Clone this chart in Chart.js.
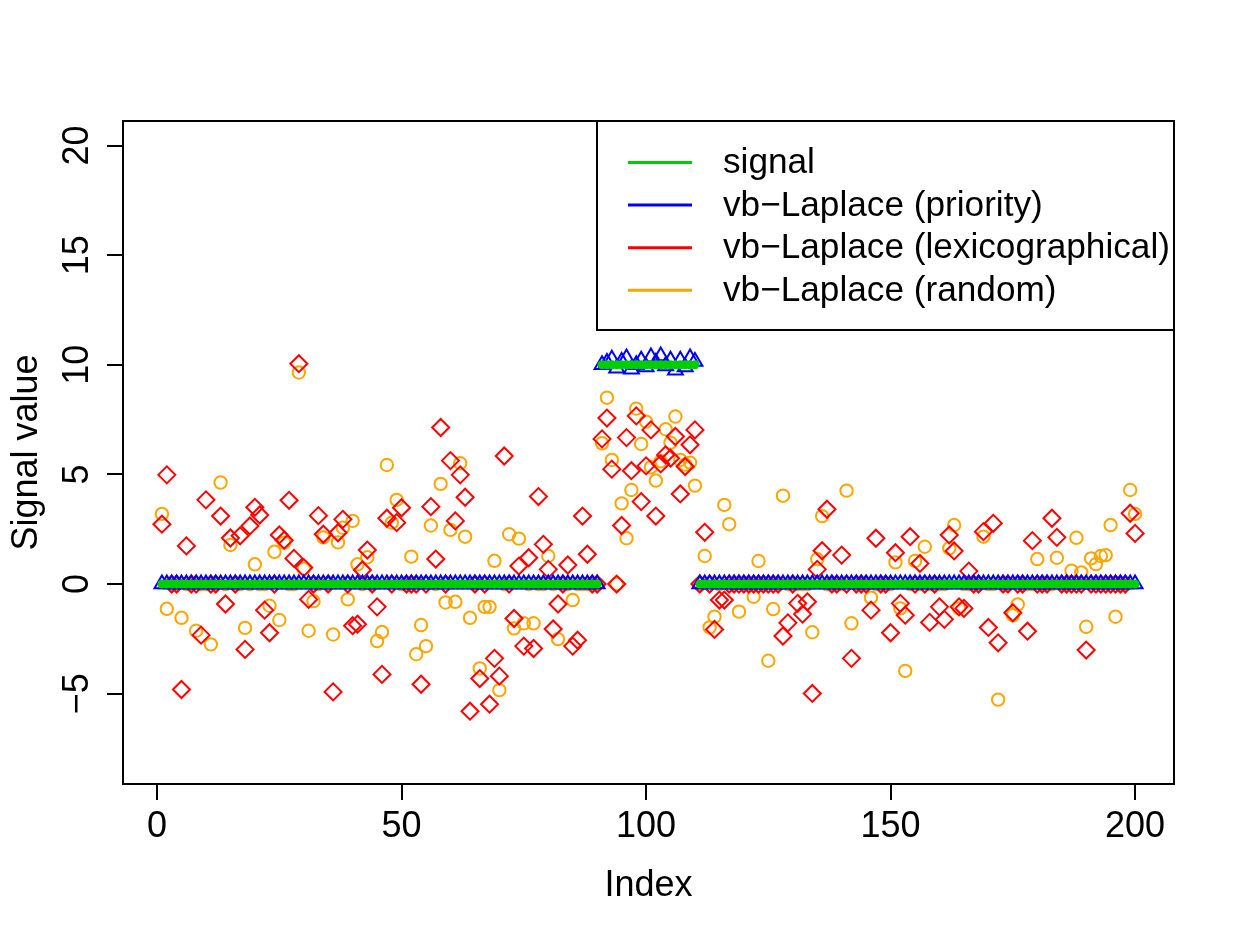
<!DOCTYPE html>
<html>
<head>
<meta charset="utf-8">
<script src="https://cdn.jsdelivr.net/npm/chart.js@4.4.0/dist/chart.umd.min.js"></script>
<style>
  html, body { margin: 0; padding: 0; background: #fff; }
  canvas { display: block; }
</style>
</head>
<body>
<canvas id="chart" width="1238" height="938"></canvas>
<script>
// values, index 1..200
const index = Array.from({length: 200}, (_, i) => i + 1)

const signal = [
  0,0,0,0,0,0,0,0,0,0, 0,0,0,0,0,0,0,0,0,0, 0,0,0,0,0,0,0,0,0,0,
  0,0,0,0,0,0,0,0,0,0, 0,0,0,0,0,0,0,0,0,0, 0,0,0,0,0,0,0,0,0,0,
  0,0,0,0,0,0,0,0,0,0, 0,0,0,0,0,0,0,0,0,0, 0,0,0,0,0,0,0,0,0,0,
  10,10,10,10,10,10,10,10,10,10, 10,10,10,10,10,10,10,10,10,10,
  0,0,0,0,0,0,0,0,0,0, 0,0,0,0,0,0,0,0,0,0, 0,0,0,0,0,0,0,0,0,0,
  0,0,0,0,0,0,0,0,0,0, 0,0,0,0,0,0,0,0,0,0, 0,0,0,0,0,0,0,0,0,0,
  0,0,0,0,0,0,0,0,0,0, 0,0,0,0,0,0,0,0,0,0, 0,0,0,0,0,0,0,0,0,0
]

const priority = [
  0,0,0,0,0,0,0,0,0,0, 0,0,0,0,0,0,0,0,0,0, 0,0,0,0,0,0,0,0,0,0,
  0,0,0,0,0,0,0,0,0,0, 0,0,0,0,0,0,0,0,0,0, 0,0,0,0,0,0,0,0,0,0,
  0,0,0,0,0,0,0,0,0,0, 0,0,0,0,0,0,0,0,0,0, 0,0,0,0,0,0,0,0,0,0,
  10.0,10.1,10.25,9.85,10.15,10.3,9.8,10.0,10.2,9.9,
  10.35,10.1,10.4,9.95,10.2,9.75,10.2,9.9,10.3,10.15,
  0,0,0,0,0,0,0,0,0,0, 0,0,0,0,0,0,0,0,0,0, 0,0,0,0,0,0,0,0,0,0,
  0,0,0,0,0,0,0,0,0,0, 0,0,0,0,0,0,0,0,0,0, 0,0,0,0,0,0,0,0,0,0,
  0,0,0,0,0,0,0,0,0,0, 0,0,0,0,0,0,0,0,0,0, 0,0,0,0,0,0,0,0,0,0
]

const lexico = [
  2.73, 4.98, 0, 0, -4.81, 1.74, 0, 0, -2.33, 3.84,
  0, 0, 3.1, -0.91, 2.1, 0, 2.2, -2.98, 2.65, 3.5,
  3.15, -1.19, -2.22, 0, 2.24, 2.0, 3.82, 1.17, 10.05, 0.75,
  -0.7, 0, 3.12, 2.27, 0, -4.92, 2.34, 2.95, 0, -1.9,
  -1.83, 0.64, 1.55, 0, -1.04, -4.12, 3.0, 0, 2.8, 3.48,
  0, 0, 0, -4.57, 0, 3.53, 1.14, 7.14, 0, 5.63,
  2.88, 4.98, 3.96, -5.8, 0, -4.31, 0, -5.48, -3.39, -4.2,
  5.84, 0, -1.57, 0.82, -2.83, 1.2, -2.94, 3.99, 1.81, 0.67,
  -2.05, -0.91, 0, 0.87, -2.83, -2.56, 3.1, 1.36, 0, 0,
  6.62, 7.57, 5.24, 0, 2.67, 6.68, 5.17, 7.67, 3.76, 5.39,
  7.03, 3.1, 5.48, 5.89, 5.74, 6.73, 4.11, 5.36, 6.35, 7.03,
  0, 2.36, 0, -2.07, -0.73, -0.73, 0, 0, 0, 0,
  0, 0, 0, 0, 0, 0, 0, -2.37, -1.77, 0,
  -0.88, -1.37, -0.81, -4.99, 0.67, 1.52, 3.41, 0, 0, 1.32,
  0, -3.39, 0, 0, 0, -1.19, 2.09, 0, 0, -2.22,
  1.43, -0.88, -1.42, 2.16, 0, 0.94, 0, -1.75, 0, -1.04,
  -1.61, 2.24, 1.51, -1.04, -1.11, 0.59, 0, 0, 2.39, -1.98,
  2.77, -2.68, 0, 0, -1.31, 0, 0, -2.15, 1.98, 0,
  0, 0, 3.0, 2.13, 0, 0, 0, 0, 0, -3.01,
  0, 0, 0, 0, 0, 0, 0, 0, 3.23, 2.31
]

const randomOrder = [
  3.2, -1.13, 0, 0, -1.54, 0, 0, -2.13, 0, 0,
  -2.75, 0, 4.63, 0, 1.78, 0, 0, -2.0, 0, 0.9,
  0, 0, -0.99, 1.47, -1.64, 1.89, 0, 0, 9.65, 0.7,
  -2.13, -0.78, 0, 2.13, 0, -2.3, 1.9, 2.57, -0.7, 2.88,
  0.9, 0, 1.22, 0, -2.6, -2.19, 5.43, 2.8, 3.84, 0,
  0, 1.25, -3.2, -1.87, -2.83, 2.67, 0, 4.57, -0.84, 2.47,
  -0.81, 5.51, 2.16, -1.54, 0, -3.85, -1.04, -1.04, 1.06, -4.84,
  0, 2.27, -2.02, 2.07, -1.79, 0, -1.79, 0, 0, 1.28,
  0, -2.51, 0, 0, -0.73, 0, 0, 0, 0, 0,
  6.42, 8.5, 5.66, 0, 3.68, 2.09, 4.29, 8.0, 6.39, 7.41,
  5.33, 4.72, 5.6, 7.06, 6.45, 7.64, 5.66, 5.45, 5.54, 4.49,
  0, 1.28, -1.98, -1.49, 0, 3.61, 2.73, 0, -1.26, 0,
  0, -0.58, 1.05, 0, -3.5, -1.14, 0, 4.03, 0, 0,
  0, 0, 0, -2.2, 1.14, 3.1, 0, 0, 0, 0,
  4.26, -1.79, 0, 0, 0, -0.62, 0, 0, 0, 0,
  0.99, -1.11, -3.96, 0, 1.05, 0, 1.7, 0, 0, 0,
  0, 1.63, 2.69, -1.11, 0, 0, 0, 0, 2.16, 0,
  0, -5.27, 0, 0, -1.42, -0.93, 0, 0, 0, 1.14,
  0, 0, 0, 1.2, 0, 0, 0.61, 2.11, 0.53, -1.95,
  1.17, 0.91, 1.28, 1.32, 2.69, -1.49, 0, 0, 4.29, 3.2
]

const seriesNames = ['signal', 'vb\u2212Laplace (priority)', 'vb\u2212Laplace (lexicographical)', 'vb\u2212Laplace (random)']
const seriesColors = ['#00cd00', '#0000ff', '#ff0000', '#ffa500']

const xTicks = [0, 50, 100, 150, 200]
const yTicks = [-5, 0, 5, 10, 15, 20]
const xMin = -6.96, xMax = 207.96
const yMin = -9.12, yMax = 21.12

const FONT = '"Liberation Sans", Arial, Helvetica, sans-serif'
const FONT_SIZE = 36
const LEGEND_FONT_SIZE = 35.2
Chart.defaults.font.family = FONT

function fmt(v) {
    return String(v).replace('-', '\u2212')
}

function points(values) {
    return values.map((v, i) => ({x: index[i], y: v}))
}

// box round the plot, rotated y labels and the legend, drawn the way R does them
const framePlugin = {
    id: 'frame',
    afterDatasetsDraw(chart) {
        const {ctx, chartArea: a, scales} = chart
        ctx.save()
        ctx.strokeStyle = '#000'
        ctx.lineWidth = 2
        ctx.strokeRect(a.left, a.top, a.right - a.left, a.bottom - a.top)

        ctx.fillStyle = '#000'
        ctx.font = FONT_SIZE + 'px ' + FONT
        ctx.textAlign = 'center'
        ctx.textBaseline = 'alphabetic'
        scales.y.ticks.forEach(t => {
            const py = scales.y.getPixelForValue(t.value)
            ctx.save()
            ctx.translate(88, py)
            ctx.rotate(-Math.PI / 2)
            ctx.fillText(fmt(t.value), 0, 0)
            ctx.restore()
        })

        // legend
        const lx = 597, ly = a.top, lh = 209
        ctx.fillStyle = '#fff'
        ctx.fillRect(lx, ly, a.right - lx, lh)
        ctx.strokeStyle = '#000'
        ctx.lineWidth = 2
        ctx.strokeRect(lx, ly, a.right - lx, lh)
        ctx.font = LEGEND_FONT_SIZE + 'px ' + FONT
        ctx.textAlign = 'left'
        ctx.textBaseline = 'middle'
        chart.data.datasets.forEach((ds, i) => {
            const y = ly + 41.5 + i * 42.6
            ctx.strokeStyle = ds.legendColor
            ctx.lineWidth = 3
            ctx.beginPath()
            ctx.moveTo(628, y)
            ctx.lineTo(692, y)
            ctx.stroke()
            ctx.fillStyle = '#000'
            ctx.fillText(ds.label, 723, y + 1)
        })
        ctx.restore()
    }
}

const gridOpts = {
    drawOnChartArea: false,
    drawTicks: true,
    tickLength: 16,
    tickWidth: 2,
    tickColor: '#000',
    color: '#000',
    lineWidth: 2
}

new Chart(document.getElementById('chart'), {
    type: 'scatter',
    data: {
        datasets: [
            {
                label: seriesNames[0],
                legendColor: seriesColors[0],
                data: points(signal),
                pointStyle: 'circle',
                pointRadius: 4.5,
                backgroundColor: seriesColors[0],
                borderColor: seriesColors[0],
                borderWidth: 0
            },
            {
                label: seriesNames[1],
                legendColor: seriesColors[1],
                data: points(priority),
                pointStyle: 'triangle',
                pointRadius: 8.6,
                backgroundColor: 'rgba(0,0,0,0)',
                borderColor: seriesColors[1],
                borderWidth: 2
            },
            {
                label: seriesNames[2],
                legendColor: seriesColors[2],
                data: points(lexico),
                pointStyle: 'rectRot',
                pointRadius: 8.5,
                backgroundColor: 'rgba(0,0,0,0)',
                borderColor: seriesColors[2],
                borderWidth: 2
            },
            {
                label: seriesNames[3],
                legendColor: seriesColors[3],
                data: points(randomOrder),
                pointStyle: 'circle',
                pointRadius: 6.2,
                backgroundColor: 'rgba(0,0,0,0)',
                borderColor: seriesColors[3],
                borderWidth: 2
            }
        ]
    },
    options: {
        responsive: false,
        devicePixelRatio: 1,
        animation: false,
        events: [],
        layout: {padding: {left: 0, top: 121, right: 64, bottom: 0}},
        plugins: {legend: {display: false}, tooltip: {enabled: false}},
        scales: {
            x: {
                type: 'linear',
                min: xMin,
                max: xMax,
                afterBuildTicks: s => { s.ticks = xTicks.map(v => ({value: v})) },
                afterFit: s => { s.height = 154 },
                grid: gridOpts,
                border: {display: false},
                ticks: {color: '#000', font: {size: FONT_SIZE}, padding: 5, maxRotation: 0, autoSkip: false, callback: v => fmt(v)},
                title: {display: true, text: 'Index', color: '#000', font: {size: FONT_SIZE}, padding: {top: 0, bottom: 30}}
            },
            y: {
                type: 'linear',
                min: yMin,
                max: yMax,
                afterBuildTicks: s => { s.ticks = yTicks.map(v => ({value: v})) },
                afterFit: s => { s.width = 123 },
                grid: gridOpts,
                border: {display: false},
                ticks: {display: false},
                title: {display: true, text: 'Signal value', color: '#000', font: {size: FONT_SIZE}, padding: {top: 5, bottom: 0}}
            }
        }
    },
    plugins: [framePlugin]
})
</script>
</body>
</html>
